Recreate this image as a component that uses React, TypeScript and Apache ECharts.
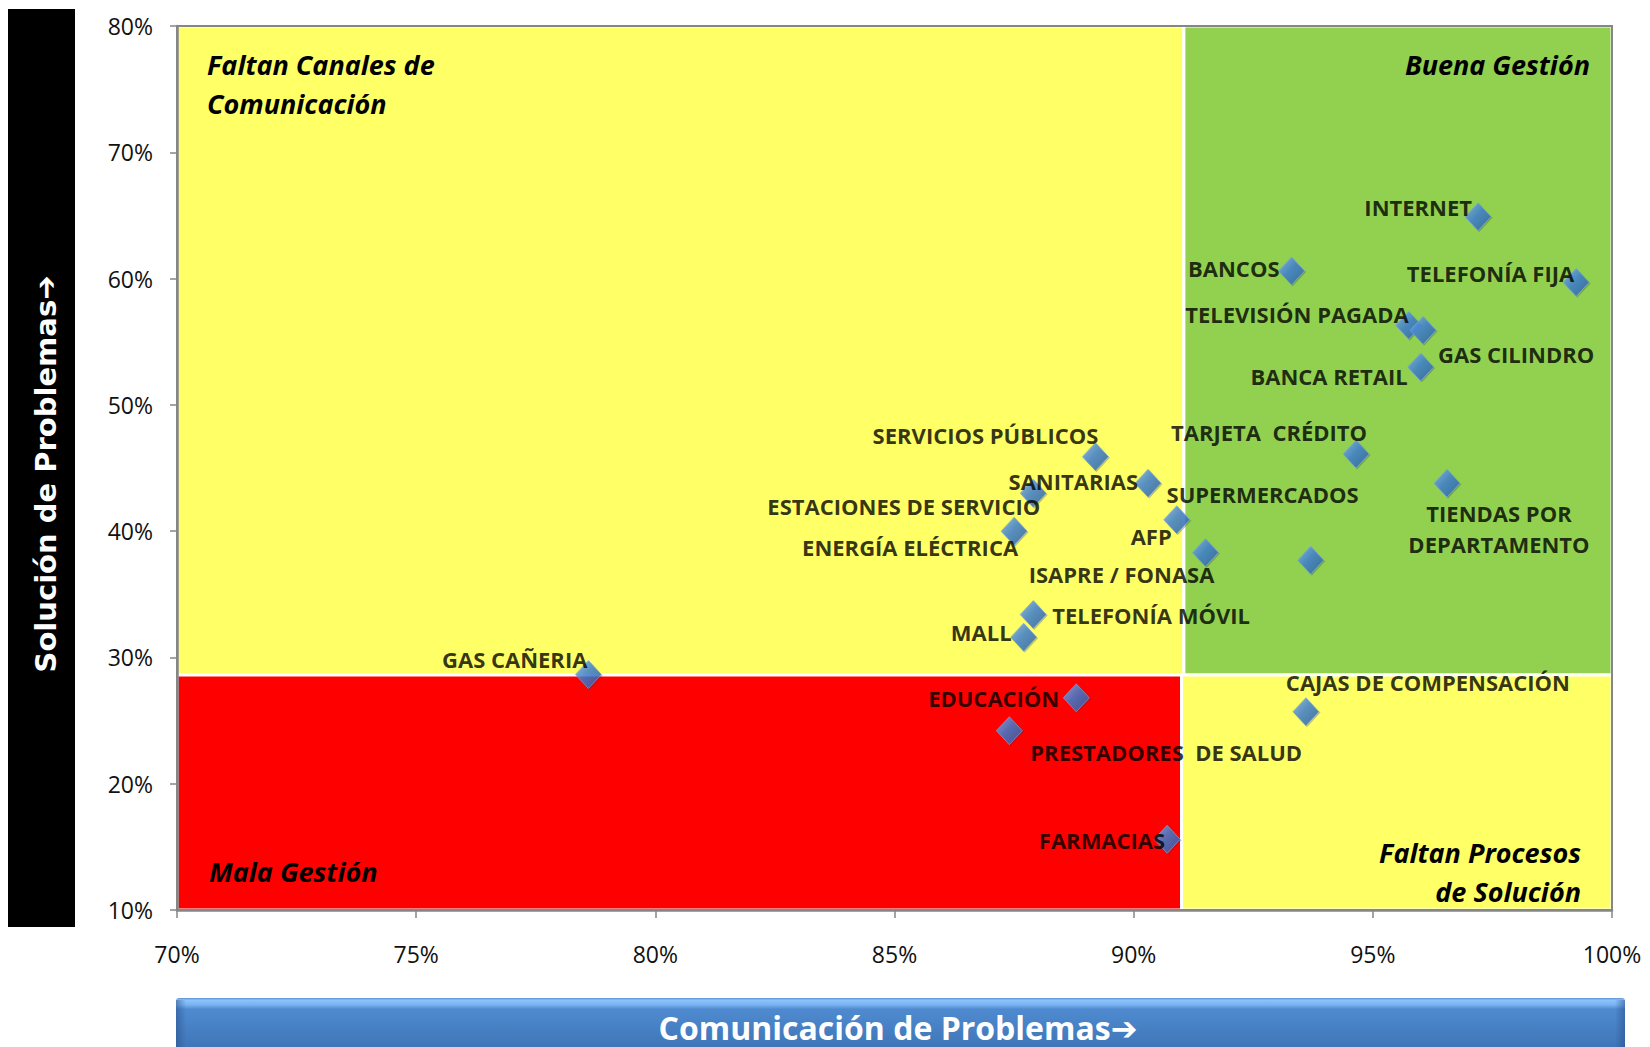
import React, { useEffect, useRef } from "react";
import * as echarts from "echarts";

// ---- data ----
const categories = [
  "INTERNET",
  "BANCOS",
  "TELEFONÍA FIJA",
  "TELEVISIÓN PAGADA",
  "GAS CILINDRO",
  "BANCA RETAIL",
  "TARJETA  CRÉDITO",
  "TIENDAS POR\nDEPARTAMENTO",
  "SERVICIOS PÚBLICOS",
  "SANITARIAS",
  "ESTACIONES DE SERVICIO",
  "AFP",
  "ISAPRE / FONASA",
  "SUPERMERCADOS",
  "ENERGÍA ELÉCTRICA",
  "TELEFONÍA MÓVIL",
  "MALL",
  "GAS CAÑERIA",
  "EDUCACIÓN",
  "PRESTADORES  DE SALUD",
  "CAJAS DE COMPENSACIÓN",
  "FARMACIAS",
];
// Comunicación de Problemas (%)
const comunicacion = [
  97.2, 93.3, 99.25, 95.75, 96.05, 96.0, 94.65, 96.55, 89.2, 90.3, 87.9, 90.9,
  91.5, 93.7, 87.5, 87.9, 87.7, 78.6, 88.8, 87.4, 93.6, 90.7,
];
// Solución de Problemas (%)
const solucion = [
  64.9, 60.6, 59.7, 56.3, 55.9, 53.0, 46.1, 43.8, 45.9, 43.8, 43.0, 40.9, 38.3,
  37.7, 40.0, 33.4, 31.6, 28.65, 26.8, 24.2, 25.7, 15.6,
];
// quadrant split values
const X_SPLIT_TOP = 91.05;
const X_SPLIT_BOTTOM = 91.0;
const Y_SPLIT = 28.6;
const quadrantNames = [
  "Faltan Canales de\nComunicación",
  "Buena Gestión",
  "Mala Gestión",
  "Faltan Procesos\nde Solución",
];

// ---- label placement (style only): [align, dx, dy] ----
const labelPlacement: [string, number, number][] = [
  ["right", -6, -10],
  ["right", -12, -3],
  ["right", -2, -9],
  ["right", 0, -11],
  ["left", 15, 24],
  ["right", -13, 9],
  ["right", 11, -22],
  ["center", 52, 45],
  ["right", 3, -22],
  ["right", -10, -2],
  ["right", 7, 13],
  ["right", -5, 16],
  ["right", 9, 21],
  ["right", 48, -66],
  ["right", 4, 16],
  ["left", 19, 1],
  ["right", -12, -5],
  ["right", -1, -15],
  ["right", -17, 0],
  ["left", 21, 21],
  ["left", -20, -30],
  ["right", -2, 1],
];

const LABEL_FONT = "'Open Sans', 'DejaVu Sans', sans-serif";
const QUAD_FONT = "'Open Sans', 'DejaVu Sans', sans-serif";

export default function App() {
  const ref = useRef<HTMLDivElement>(null);

  useEffect(() => {
    if (!ref.current) return;
    const chart = echarts.init(ref.current, undefined, { renderer: "svg" });

    const diamondColor = new echarts.graphic.LinearGradient(0, 0, 1, 1, [
      { offset: 0, color: "#7fb4f5" },
      { offset: 0.45, color: "#3f80d2" },
      { offset: 1, color: "#285da6" },
    ]);

    const data = categories.map((name, i) => {
      const [align] = labelPlacement[i];
      return {
        name,
        value: [comunicacion[i], solucion[i]],
        label: { align },
      };
    });

    const quadText = (
      text: string,
      x: number,
      y: number,
      align: string
    ) => ({
      type: "text",
      x,
      y,
      z: 100,
      style: {
        text,
        fill: "#000",
        fontFamily: QUAD_FONT,
        fontWeight: "bold",
        fontStyle: "italic",
        fontSize: 27,
        lineHeight: 39,
        align,
        verticalAlign: "middle",
      },
    });

    const option: any = {
      animation: false,
      backgroundColor: "#ffffff",
      grid: {
        left: 177,
        top: 26,
        width: 1435,
        height: 884,
        show: true,
        borderColor: "#868686",
        borderWidth: 2,
        backgroundColor: "transparent",
        z: 10,
      },
      xAxis: {
        type: "value",
        min: 70,
        max: 100,
        interval: 5,
        z: 10,
        axisLine: {
          show: true,
          onZero: false,
          lineStyle: { color: "#868686", width: 2.5 },
        },
        axisTick: {
          show: true,
          length: 8,
          lineStyle: { color: "#868686", width: 1.5 },
        },
        splitLine: { show: false },
        axisLabel: {
          formatter: "{value}%",
          fontSize: 23,
          fontFamily: "'Open Sans', sans-serif",
          color: "#111",
          margin: 32,
        },
      },
      yAxis: {
        type: "value",
        min: 10,
        max: 80,
        interval: 10,
        z: 10,
        axisLine: {
          show: true,
          onZero: false,
          lineStyle: { color: "#868686", width: 2.5 },
        },
        axisTick: {
          show: true,
          length: 7,
          lineStyle: { color: "#868686", width: 1.5 },
        },
        splitLine: { show: false },
        axisLabel: {
          formatter: "{value}%",
          fontSize: 23,
          fontFamily: "'Open Sans', sans-serif",
          color: "#111",
          margin: 24,
          padding: [9, 0, 0, 0],
        },
      },
      series: [
        {
          type: "scatter",
          symbol: "diamond",
          symbolSize: [26, 28],
          itemStyle: {
            color: diamondColor,
            borderColor: "#7ea6dc",
            borderWidth: 0.8,
            shadowColor: "rgba(30,50,90,0.35)",
            shadowBlur: 1,
            shadowOffsetX: 1,
            shadowOffsetY: 1,
          },
          label: {
            show: true,
            position: "inside",
            formatter: "{b}",
            verticalAlign: "middle",
            fontFamily: LABEL_FONT,
            fontWeight: "bold",
            fontSize: 22,
            lineHeight: 31,
            color: "#000",
          },
          labelLayout: (params: any) => {
            const p = labelPlacement[params.dataIndex];
            return { dx: p[1], dy: p[2], hideOverlap: false };
          },
          data,
          markArea: {
            silent: true,
            label: { show: false },
            itemStyle: { borderColor: "#ffffff", borderWidth: 3 },
            data: [
              [
                { xAxis: 70, yAxis: Y_SPLIT, itemStyle: { color: "#FFFF66" } },
                { xAxis: X_SPLIT_TOP, yAxis: 80 },
              ],
              [
                { xAxis: X_SPLIT_TOP, yAxis: Y_SPLIT, itemStyle: { color: "#92D050" } },
                { xAxis: 100, yAxis: 80 },
              ],
              [
                { xAxis: 70, yAxis: 10, itemStyle: { color: "#FF0000" } },
                { xAxis: X_SPLIT_BOTTOM, yAxis: Y_SPLIT },
              ],
              [
                { xAxis: X_SPLIT_BOTTOM, yAxis: 10, itemStyle: { color: "#FFFF66" } },
                { xAxis: 100, yAxis: Y_SPLIT },
              ],
            ],
          },
        },
      ],
      graphic: [
        {
          type: "rect",
          shape: { x: 8, y: 9, width: 67, height: 918 },
          style: { fill: "#000000" },
        },
        {
          type: "text",
          x: 46,
          y: 474,
          rotation: Math.PI / 2,
          style: {
            text: "Solución de Problemas➔",
            fill: "#ffffff",
            fontFamily: "'DejaVu Sans', sans-serif",
            fontWeight: "bold",
            fontSize: 29,
            align: "center",
            verticalAlign: "middle",
          },
        },
        {
          type: "rect",
          shape: { x: 176, y: 998, width: 1449, height: 70, r: 3 },
          style: {
            fill: new echarts.graphic.LinearGradient(0, 0, 0, 1, [
              { offset: 0, color: "#5b90d2" },
              { offset: 0.03, color: "#8cc4fa" },
              { offset: 0.1, color: "#78b2f0" },
              { offset: 0.16, color: "#4f8ad0" },
              { offset: 0.7, color: "#3f76b8" },
              { offset: 1, color: "#3a6aa6" },
            ]),
          },
        },
        {
          type: "rect",
          shape: { x: 176, y: 1000, width: 10, height: 70 },
          style: {
            fill: new echarts.graphic.LinearGradient(0, 0, 1, 0, [
              { offset: 0, color: "rgba(40,80,140,0.55)" },
              { offset: 1, color: "rgba(40,80,140,0)" },
            ]),
          },
        },
        {
          type: "rect",
          shape: { x: 1615, y: 1000, width: 10, height: 70 },
          style: {
            fill: new echarts.graphic.LinearGradient(0, 0, 1, 0, [
              { offset: 0, color: "rgba(40,80,140,0)" },
              { offset: 1, color: "rgba(40,80,140,0.55)" },
            ]),
          },
        },
        {
          type: "text",
          x: 898,
          y: 1027,
          style: {
            text: "Comunicación de Problemas➔",
            fill: "#ffffff",
            fontFamily: "'Open Sans', 'DejaVu Sans', sans-serif",
            fontWeight: "bold",
            fontSize: 32,
            lineHeight: 34,
            align: "center",
            verticalAlign: "middle",
          },
        },
        quadText(quadrantNames[0], 207, 84, "left"),
        quadText(quadrantNames[1], 1590, 64, "right"),
        quadText(quadrantNames[2], 209, 871, "left"),
        quadText(quadrantNames[3], 1581, 872, "right"),
      ],
    };

    chart.setOption(option);
    return () => chart.dispose();
  }, []);

  return (
    <div
      ref={ref}
      style={{
        position: "fixed",
        left: 0,
        top: 0,
        width: 1650,
        height: 1047,
        background: "#fff",
      }}
    />
  );
}
